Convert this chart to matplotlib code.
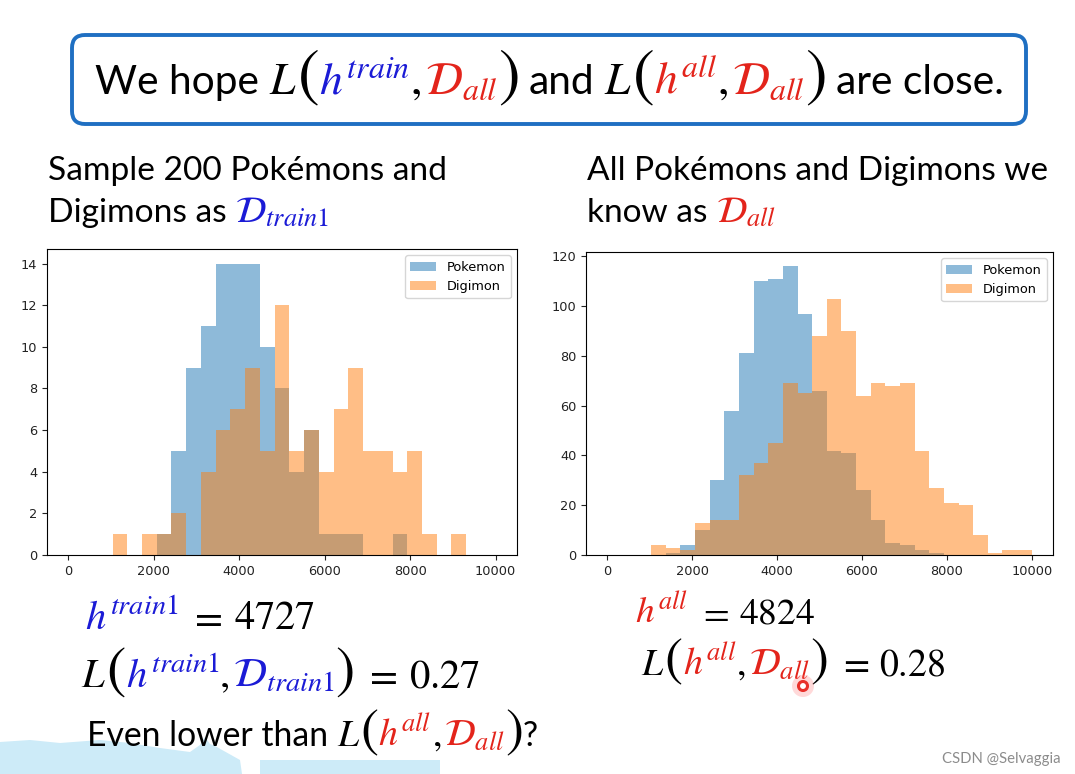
import numpy as np
import matplotlib
matplotlib.use('Agg')
import matplotlib.pyplot as plt
from matplotlib.patches import FancyBboxPatch, Polygon, Circle

# ---------------- data ----------------
bin_edges = np.linspace(0, 10000, 30)
train_pokemon = [0, 0, 0, 0, 0, 0, 1, 5, 9, 11, 14, 14, 14, 10, 8, 4, 6, 1, 1, 1,
                 0, 0, 1, 0, 0, 0, 0, 0, 0]
train_digimon = [0, 0, 0, 1, 0, 1, 1, 2, 0, 4, 6, 7, 9, 5, 12, 5, 6, 4, 7, 9,
                 5, 5, 4, 5, 1, 0, 1, 0, 0]
all_pokemon = [0, 0, 0, 0, 1, 4, 10, 30, 58, 81, 110, 111, 116, 97, 66, 42, 41, 26, 14, 5,
               4, 2, 1, 0, 0, 0, 0, 0, 0]
all_digimon = [0, 0, 0, 4, 3, 2, 13, 14, 14, 32, 37, 45, 69, 65, 88, 103, 90, 64, 69, 68,
               69, 42, 27, 21, 20, 8, 1, 2, 2]
series_labels = ['Pokemon', 'Digimon']
x_ticks = [0, 2000, 4000, 6000, 8000, 10000]
left_yticks = [0, 2, 4, 6, 8, 10, 12, 14]
right_yticks = [0, 20, 40, 60, 80, 100, 120]

# ---------------- style ----------------
plt.rcParams['mathtext.fontset'] = 'stix'
TEXT_FONT = 'Lato'
BLUE = '#1b1bd6'
RED = '#e3241b'
MATH_SCALE = 1.12
PAREN_SCALE = 1.6
W, H = 1075, 774

fig = plt.figure(figsize=(W / 100, H / 100), dpi=100)
bg = fig.add_axes([0, 0, 1, 1], zorder=0)
bg.set_xlim(0, W)
bg.set_ylim(H, 0)
bg.axis('off')

# decorative box
box = FancyBboxPatch((72, 35), 954, 89, boxstyle='round,pad=0,rounding_size=13',
                     facecolor='white', edgecolor='#1f6fc2', linewidth=2.8)
bg.add_patch(box)

# light blue shapes at bottom-left
lb = '#cdebf8'
bg.add_patch(Polygon([(0, 774), (0, 742), (30, 740), (60, 743), (100, 740), (130, 743),
                      (160, 748), (190, 752), (200, 745), (205, 737), (210, 744),
                      (215, 746), (240, 760), (242, 774)], closed=True,
                     facecolor=lb, edgecolor='none'))
bg.add_patch(Polygon([(260, 774), (260, 760), (440, 760), (440, 774)], closed=True,
                     facecolor=lb, edgecolor='none'))

# ---------------- histograms ----------------
centers = (bin_edges[:-1] + bin_edges[1:]) / 2


def hist_panel(rect, pok, dig, yticks):
    ax = fig.add_axes(rect, zorder=2)
    ax.hist(centers, bins=bin_edges, weights=pok, alpha=0.5, label=series_labels[0])
    ax.hist(centers, bins=bin_edges, weights=dig, alpha=0.5, label=series_labels[1])
    ax.set_xticks(x_ticks)
    ax.set_yticks(yticks)
    ax.tick_params(labelsize=9.3, colors='#222222')
    ax.legend(fontsize=9.3, loc='upper right')
    return ax


hist_panel([47 / W, 1 - 555 / H, 470 / W, 306 / H], train_pokemon, train_digimon, left_yticks)
hist_panel([586 / W, 1 - 555 / H, 467 / W, 303 / H], all_pokemon, all_digimon, right_yticks)

# ---------------- text runs ----------------
renderer = fig.canvas.get_renderer()


def run(pieces, x0, yb, size, x1=None, zorder=3):
    def build(sz):
        objs = []
        x = x0
        for kind, s, color in pieces:
            if kind == 'g':
                x += s * sz * 100 / 72
                continue
            if kind == 'p':
                fs = sz * PAREN_SCALE
            elif kind == 'm':
                fs = sz * MATH_SCALE
            else:
                fs = sz
            kw = {}
            if kind == 't':
                kw['family'] = TEXT_FONT
            t = bg.text(x, yb, s, color=color, fontsize=fs, ha='left', va='baseline',
                        zorder=zorder, **kw)
            x += t.get_window_extent(renderer).width
            objs.append(t)
        return objs, x - x0

    objs, width = build(size)
    if x1 is not None:
        for o in objs:
            o.remove()
        size = size * (x1 - x0) / width
        objs, width = build(size)
    return size


K = 'black'
L = ('m', r'$L$', K)
OP = ('p', r'$($', K)
CP = ('p', r'$)$', K)
COMMA = ('m', r'$,$', K)
SP = ('g', 0.25, None)
SM = ('g', 0.1, None)
EQ_GAP = ('g', 0.3, None)
D_ALL = ('m', r'$\mathcal{D}_{all}$', RED)
H_ALL = ('m', r'$h^{all}$', RED)

run([('t', 'We hope', K), SP, L, OP, ('m', r'$h^{train}$', BLUE), COMMA, SM, D_ALL, CP, SP,
     ('t', 'and', K), SP, L, OP, H_ALL, COMMA, SM, D_ALL, CP, SP, ('t', 'are close.', K)],
    95, 94, 30, 1003)

s2 = run([('t', 'Sample 200 Pokémons and', K)], 48, 180, 28, 446)
run([('t', 'Digimons as', K), SP, ('m', r'$\mathcal{D}_{train1}$', BLUE)], 48, 222, s2)
s4 = run([('t', 'All Pokémons and Digimons we', K)], 587, 180, 28, 1049)
run([('t', 'know as', K), SP, D_ALL], 587, 222, s4)

run([('m', r'$h^{train1}$', BLUE), EQ_GAP, ('m', r'$=$', K), EQ_GAP,
     ('m', r'$4727$', K)], 85, 629, 26, 314)
run([L, OP, ('m', r'$h^{train1}$', BLUE), COMMA, SM, ('m', r'$\mathcal{D}_{train1}$', BLUE), CP,
     EQ_GAP, ('m', r'$=$', K), EQ_GAP, ('m', r'$0.27$', K)], 81, 687, 26, 479)
run([('t', 'Even lower than', K), SP, L, OP, H_ALL, COMMA, SM, D_ALL, CP, ('t', '?', K)],
    87, 746, 26, 536)

run([H_ALL, EQ_GAP, ('m', r'$=$', K), EQ_GAP, ('m', r'$4824$', K)],
    635, 623, 26, 814)
run([L, OP, H_ALL, COMMA, SM, D_ALL, CP, EQ_GAP, ('m', r'$=$', K), EQ_GAP,
     ('m', r'$0.28$', K)], 641, 675, 26, 944)

run([('t', 'CSDN @Selvaggia', '#8c8c8c')], 942, 763, 10, 1059)

# laser pointer mark
bg.add_patch(Circle((803, 686), 11, facecolor='#ff6b6b', edgecolor='none', alpha=0.25, zorder=4))
bg.add_patch(Circle((803, 686), 4.5, facecolor='white', edgecolor='#e8302a', linewidth=2.2,
                    zorder=5))

fig.savefig('out.png', dpi=100)
